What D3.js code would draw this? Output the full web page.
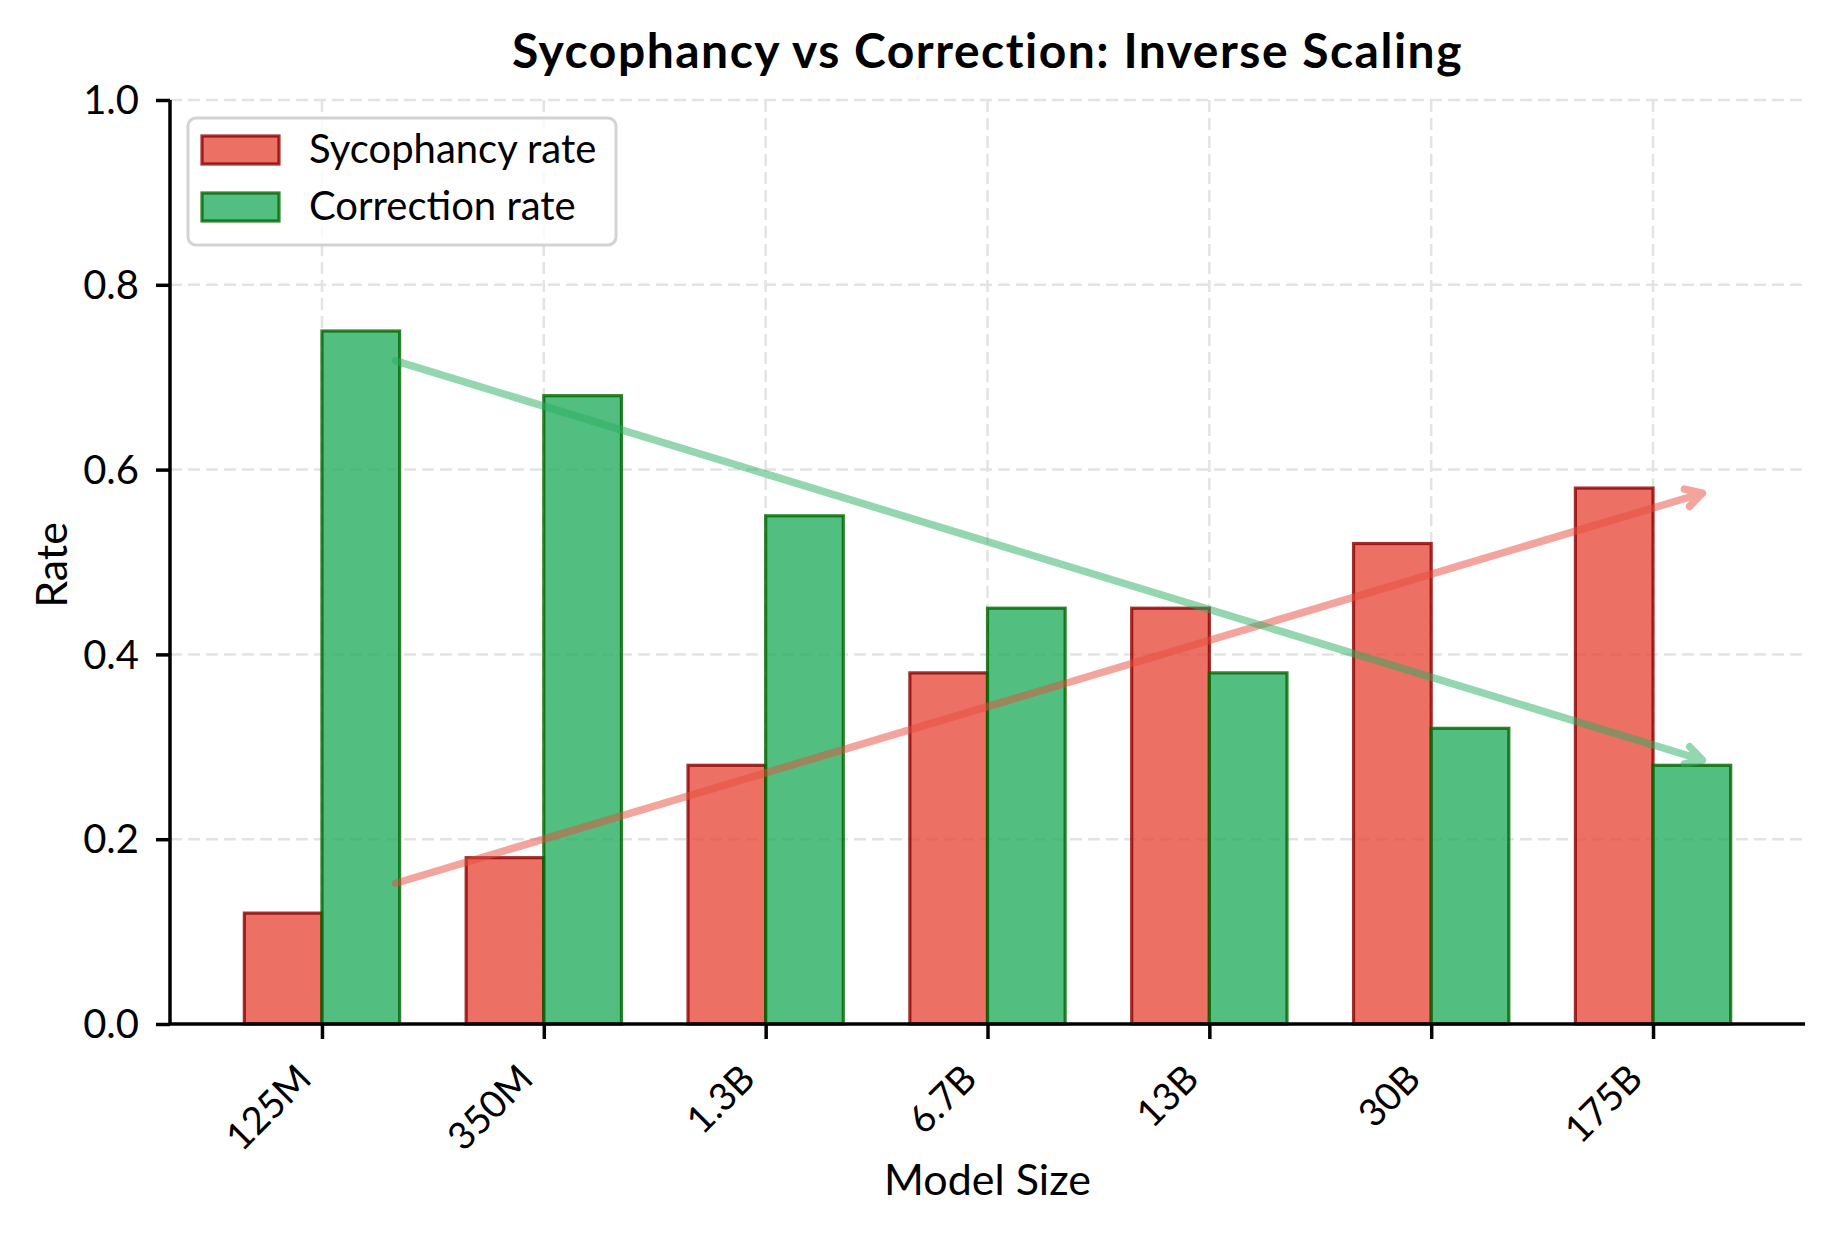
<!DOCTYPE html>
<html>
<head>
<meta charset="utf-8">
<script src="https://cdn.jsdelivr.net/npm/d3@7/dist/d3.min.js"></script>
<style>
  body { margin: 0; background: #ffffff; }
  text { font-family: Lato, "Noto Sans", sans-serif; fill: #000000; }
</style>
</head>
<body>
<svg width="1834" height="1234"></svg>
<script>
// data
var modelSizes = ["125M", "350M", "1.3B", "6.7B", "13B", "30B", "175B"];
var sycophancyRate = [0.12, 0.18, 0.28, 0.38, 0.45, 0.52, 0.58];
var correctionRate = [0.75, 0.68, 0.55, 0.45, 0.38, 0.32, 0.28];
var yTicks = [0.0, 0.2, 0.4, 0.6, 0.8, 1.0];
// trend arrows: [from, to] in (category index, rate)
var sycophancyTrend = [[0.3, 0.15], [6.3, 0.58]];
var correctionTrend = [[0.3, 0.72], [6.3, 0.28]];

var width = 1834,
    height = 1234,
    plotL = 170, plotR = 1805, plotT = 100, plotB = 1024,
    barW = 0.35;

var svg = d3.select("svg");

var x = d3.scaleLinear().domain([-0.685, 6.685]).range([plotL, plotR]);
var y = d3.scaleLinear().domain([0, 1]).range([plotB, plotT]);

// grid
var grid = svg.append("g");
grid.selectAll("line.gx").data(modelSizes).enter().append("line")
  .attr("x1", function(d, i) { return x(i); })
  .attr("x2", function(d, i) { return x(i); })
  .attr("y1", y(1)).attr("y2", y(0))
  .attr("stroke", "#e3e3e3").attr("stroke-width", 2.5)
  .attr("stroke-dasharray", "12,6");
grid.selectAll("line.gy").data(yTicks.slice(1)).enter().append("line")
  .attr("x1", plotL).attr("x2", plotR)
  .attr("y1", function(d) { return y(d); })
  .attr("y2", function(d) { return y(d); })
  .attr("stroke", "#e3e3e3").attr("stroke-width", 2.5)
  .attr("stroke-dasharray", "12,6");

// bars
function drawBars(vals, offset, fill, edge) {
  svg.append("g").selectAll("rect").data(vals).enter().append("rect")
    .attr("x", function(d, i) { return x(i + offset); })
    .attr("y", function(d) { return y(d); })
    .attr("width", x(barW) - x(0))
    .attr("height", function(d) { return y(0) - y(d); })
    .attr("fill", fill).attr("fill-opacity", 0.8)
    .attr("stroke", edge).attr("stroke-opacity", 0.8)
    .attr("stroke-width", 3.2);
}
drawBars(sycophancyRate, -barW, "#e74c3c", "#8b0000");
drawBars(correctionRate, 0, "#27ae60", "#006400");

// trend arrows
function drawArrow(pts, color) {
  var x0 = x(pts[0][0]), y0 = y(pts[0][1]),
      x1 = x(pts[1][0]), y1 = y(pts[1][1]);
  var len = Math.sqrt((x1 - x0) * (x1 - x0) + (y1 - y0) * (y1 - y0));
  var ux = (x1 - x0) / len, uy = (y1 - y0) / len;
  var sx = x0 + ux * 7.5, sy = y0 + uy * 7.5;
  var ex = x1 - ux * 18, ey = y1 - uy * 18;
  var hl = 16, hw = 9;
  var path = d3.path();
  path.moveTo(sx, sy);
  path.lineTo(ex, ey);
  path.moveTo(ex - ux * hl - uy * hw, ey - uy * hl + ux * hw);
  path.lineTo(ex, ey);
  path.lineTo(ex - ux * hl + uy * hw, ey - uy * hl - ux * hw);
  svg.append("path")
    .attr("d", path.toString())
    .attr("fill", "none")
    .attr("stroke", color).attr("stroke-opacity", 0.5)
    .attr("stroke-width", 7.5)
    .attr("stroke-linecap", "round").attr("stroke-linejoin", "round");
}
drawArrow(sycophancyTrend, "#e74c3c");
drawArrow(correctionTrend, "#27ae60");

// axes
var yAxis = d3.axisLeft(y).tickValues(yTicks).tickFormat(d3.format(".1f"))
  .tickSize(14).tickPadding(17);
var gy = svg.append("g").attr("transform", "translate(" + plotL + ",0)").call(yAxis);
var xAxis = d3.axisBottom(x).tickValues(d3.range(modelSizes.length))
  .tickFormat(function(i) { return modelSizes[i]; }).tickSize(15);
var gx = svg.append("g").attr("transform", "translate(0," + plotB + ")").call(xAxis);

[gx, gy].forEach(function(g) {
  g.select(".domain").attr("stroke", "#000").attr("stroke-width", 3.5);
  g.selectAll(".tick line").attr("stroke", "#000").attr("stroke-width", 3.5);
  g.selectAll(".tick text").attr("font-size", 40).attr("font-family", "Lato");
});
gy.select(".domain").attr("d", "M0," + y(1) + "V" + y(0));
gx.select(".domain").attr("d", "M" + plotL + ",0H" + plotR);
gy.selectAll(".tick text").attr("dy", "0.34em");
gx.selectAll(".tick text")
  .attr("font-size", 38)
  .attr("text-anchor", "end")
  .attr("y", 0).attr("dy", 0)
  .attr("transform", "translate(-9,57) rotate(-45)");

// labels
svg.append("text")
  .attr("x", (plotL + plotR) / 2).attr("y", 68)
  .attr("text-anchor", "middle")
  .attr("font-size", 48).attr("font-weight", "bold")
  .attr("letter-spacing", 1.5)
  .text("Sycophancy vs Correction: Inverse Scaling");
svg.append("text")
  .attr("x", (plotL + plotR) / 2).attr("y", 1195)
  .attr("text-anchor", "middle")
  .attr("font-size", 43)
  .text("Model Size");
svg.append("text")
  .attr("transform", "translate(67,565) rotate(-90)")
  .attr("text-anchor", "middle")
  .attr("font-size", 43)
  .text("Rate");

// legend
var legend = svg.append("g");
legend.append("rect")
  .attr("x", 188).attr("y", 118).attr("width", 428).attr("height", 127)
  .attr("rx", 8)
  .attr("fill", "#ffffff").attr("fill-opacity", 0.8)
  .attr("stroke", "#d3d3d3").attr("stroke-width", 3);
var legItems = [
  { label: "Sycophancy rate", fill: "#e74c3c", edge: "#8b0000" },
  { label: "Correction rate", fill: "#27ae60", edge: "#006400" }
];
legItems.forEach(function(it, k) {
  legend.append("rect")
    .attr("x", 202).attr("y", 136 + k * 57).attr("width", 77).attr("height", 28)
    .attr("fill", it.fill).attr("fill-opacity", 0.8)
    .attr("stroke", it.edge).attr("stroke-opacity", 0.8).attr("stroke-width", 3.2);
  legend.append("text")
    .attr("x", 309).attr("y", 163 + k * 57)
    .attr("font-size", 40)
    .text(it.label);
});
</script>
</body>
</html>
